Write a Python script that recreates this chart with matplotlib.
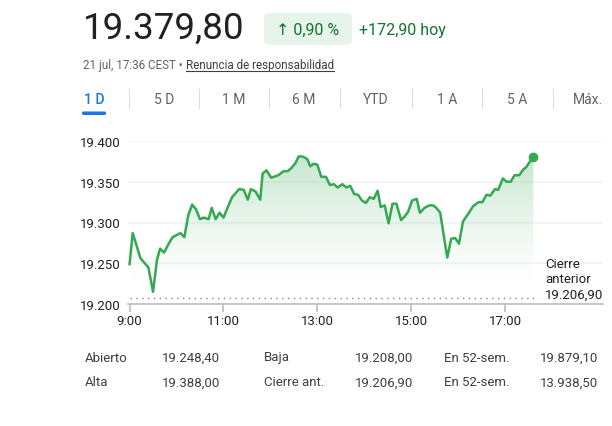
import matplotlib
matplotlib.use("Agg")
from matplotlib import pyplot as plt
from matplotlib.patches import FancyBboxPatch
from matplotlib.lines import Line2D
import numpy as np

# minutes after 9:00 and index level
minutes = [0, 4, 14, 24, 30, 35, 39, 44, 50, 55, 65, 70, 75, 80, 85, 90, 95, 101, 105, 110,
           115, 120, 126, 131, 140, 146, 151, 155, 161, 167, 170, 175, 181, 190, 197, 202, 207, 212, 216, 221,
           227, 231, 235, 240, 245, 251, 256, 261, 266, 272, 277, 282, 287, 292, 297, 302, 307, 312, 317, 321,
           326, 331, 336, 341, 347, 352, 356, 361, 367, 371, 377, 383, 388, 392, 397, 401, 406, 411, 416, 421,
           426, 433, 439, 446, 451, 456, 461, 467, 471, 477, 482, 487, 492, 498, 503, 507, 511, 516]
prices = [19249, 19287, 19256, 19245, 19215, 19254, 19268, 19263, 19274, 19282, 19287, 19282, 19309, 19322, 19316, 19304, 19306, 19304, 19318, 19304,
          19312, 19306, 19320, 19331, 19341, 19340, 19328, 19341, 19338, 19328, 19360, 19364, 19355, 19358, 19363, 19363, 19367, 19373, 19381, 19381,
          19378, 19369, 19372, 19371, 19356, 19356, 19346, 19347, 19343, 19347, 19343, 19345, 19335, 19334, 19327, 19324, 19331, 19329, 19339, 19319,
          19321, 19299, 19323, 19323, 19303, 19308, 19313, 19327, 19329, 19312, 19318, 19321, 19321, 19318, 19312, 19287, 19257, 19280, 19281, 19274,
          19301, 19311, 19320, 19325, 19325, 19334, 19333, 19341, 19340, 19354, 19350, 19350, 19358, 19358, 19365, 19368, 19374, 19379.8]
prev_close = 19206.9

tick_minutes = [0, 120, 240, 360, 480]
tick_labels = ["9:00", "11:00", "13:00", "15:00", "17:00"]
y_ticks = [19200, 19250, 19300, 19350, 19400]
y_labels = ["19.200", "19.250", "19.300", "19.350", "19.400"]

tabs = ["1 D", "5 D", "1 M", "6 M", "YTD", "1 A", "5 A", "Máx."]
stat_labels = [["Abierto", "Baja", "En 52-sem."], ["Alta", "Cierre ant.", "En 52-sem."]]
stat_values = [["19.248,40", "19.208,00", "19.879,10"], ["19.388,00", "19.206,90", "13.938,50"]]

GREEN = "#34a853"
DARK_GREEN = "#137333"
TEXT = "#202124"
GRAY = "#5f6368"
W, H = 612, 427

plt.rcParams['font.family'] = ['Roboto', 'DejaVu Sans']


def fx(x):
    return x / W


def fy(y):
    return 1 - y / H


fig = plt.figure(figsize=(W / 100, H / 100), dpi=100)

# header
fig.text(fx(83), fy(29), "19.379,80", fontsize=26.5, color=TEXT, va="center", ha="left")
pill = FancyBboxPatch((fx(264), fy(46)), fx(352 - 264), (46 - 14) / H,
                      boxstyle="round,pad=0,rounding_size=0.012", transform=fig.transFigure,
                      facecolor="#e6f4ea", edgecolor="none")
fig.patches.append(pill)
fig.text(fx(308), fy(30), "↑ 0,90 %", fontsize=11.5, color=DARK_GREEN, va="center", ha="center")
fig.text(fx(359), fy(30), "+172,90 hoy", fontsize=11.5, color=DARK_GREEN, va="center", ha="left")

fig.text(fx(83), fy(66), "21 jul, 17:36 CEST •", fontsize=8.4, color=GRAY, va="center", ha="left")
link = fig.text(fx(186), fy(66), "Renuncia de responsabilidad", fontsize=8.4, color="#3c4043",
                va="center", ha="left")
# underline matched to the drawn text width
fig.canvas.draw()
bb = link.get_window_extent(renderer=fig.canvas.get_renderer())
fig.lines.append(Line2D([bb.x0 / W, bb.x1 / W], [fy(72), fy(72)], transform=fig.transFigure,
                        color="#3c4043", lw=0.8))

# tabs
tab_x = [94, 164, 234, 304, 376, 447, 517, 588]
for i, (t, x) in enumerate(zip(tabs, tab_x)):
    fig.text(fx(x), fy(100), t, fontsize=10, color="#1a73e8" if i == 0 else GRAY,
             va="center", ha="center", fontweight="medium" if i == 0 else "normal")
    if i > 0:
        sx = (tab_x[i - 1] + x) / 2
        fig.lines.append(Line2D([fx(sx), fx(sx)], [fy(90), fy(109)], transform=fig.transFigure,
                                color="#dadce0", lw=0.8))
fig.patches.append(FancyBboxPatch((fx(82), fy(116)), fx(24), 3.5 / H,
                                  boxstyle="round,pad=0,rounding_size=0.003", transform=fig.transFigure,
                                  facecolor="#1a73e8", edgecolor="none"))

# chart
ax = fig.add_axes([fx(128), fy(305), fx(603 - 128), (305 - 142) / H])
ax.set_xlim(-2, 605)
ax.set_ylim(19200, 19400)

ax.plot(minutes, prices, color=GREEN, lw=1.8, solid_joinstyle="round", zorder=3)
ax.plot(minutes[-1], prices[-1], "o", color=GREEN, ms=6, zorder=4)

# gradient fill under line
poly = ax.fill_between(minutes, prices, 19200, color="none")
grad = np.linspace(0, 1, 256).reshape(-1, 1)
rgba = np.zeros((256, 1, 4))
rgba[..., 0], rgba[..., 1], rgba[..., 2] = 0x34 / 255, 0xa8 / 255, 0x53 / 255
rgba[..., 3] = 0.28 * grad ** 1.3
img = ax.imshow(rgba, aspect="auto", origin="lower",
                extent=[minutes[0], minutes[-1], 19225, max(prices)], zorder=1)
img.set_clip_path(poly.get_paths()[0], transform=ax.transData)

ax.plot([0, 522], [prev_close, prev_close], color="#80868b", lw=1,
        linestyle=(0, (1, 3.2)), zorder=2)

for v in y_ticks[1:]:
    ax.axhline(v, color="#f1f3f4", lw=1.2, zorder=0)

for s in ["top", "right", "left"]:
    ax.spines[s].set_visible(False)
ax.spines["bottom"].set_color("#bdc1c6")
ax.spines["bottom"].set_linewidth(1.3)
ax.set_xticks(tick_minutes)
ax.set_xticklabels(tick_labels)
ax.set_yticks(y_ticks)
ax.set_yticklabels(y_labels)
ax.tick_params(axis="x", length=6, width=1.3, color="#bdc1c6", labelsize=9.5,
               labelcolor=TEXT, pad=1)
ax.tick_params(axis="y", length=0, labelsize=9.5, labelcolor=TEXT, pad=5)

fig.text(fx(545), fy(280), "Cierre\nanterior\n19.206,90", fontsize=9.5, color=TEXT,
         va="center", ha="left", linespacing=1.25)

# stats table
col_x = [85, 162, 264, 355, 444, 540]
row_y = [358, 383]
for r in range(2):
    for c in range(3):
        fig.text(fx(col_x[2 * c]), fy(row_y[r]), stat_labels[r][c], fontsize=9.5,
                 color="#3c4043", va="center", ha="left")
        fig.text(fx(col_x[2 * c + 1]), fy(row_y[r]), stat_values[r][c], fontsize=9.5,
                 color="#3c4043", va="center", ha="left")

fig.savefig("out.png", dpi=100, facecolor="white")
